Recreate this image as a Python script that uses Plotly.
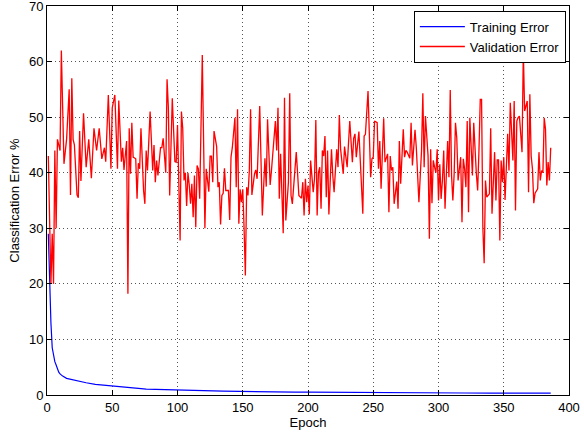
import plotly.graph_objects as go

# Training error (sampled along the smooth curve)
train_epochs = [1, 2, 3, 4, 5, 6, 7, 8, 9, 10, 12, 15, 20, 25, 30, 37, 43, 49, 56, 63,
                70, 76, 89, 100, 110, 120, 135, 150, 165, 175, 190, 200, 215, 225, 235,
                244, 260, 280, 300, 320, 340, 350, 360, 365, 370, 375, 386]
train_error = [29, 20, 13, 8.5, 6.8, 6.0, 5.4, 4.7, 4.1, 3.8, 3.4, 3.0, 2.7, 2.4, 2.2,
               1.9, 1.75, 1.6, 1.45, 1.3, 1.2, 1.07, 0.95, 0.85, 0.82, 0.78, 0.7, 0.62,
               0.58, 0.55, 0.52, 0.5, 0.47, 0.45, 0.43, 0.4, 0.38, 0.37, 0.36, 0.36,
               0.35, 0.35, 0.3, 0.28, 0.33, 0.35, 0.34]

# Validation error
val_epochs = [1, 2, 3, 4, 5, 6, 7, 8, 9, 10, 11, 13, 15, 17, 18, 19, 20, 21, 23, 24,
              25, 26, 28, 30, 32, 34, 36, 38, 40, 42, 44, 45, 47, 49, 50, 52, 54, 55, 57, 58,
              59, 61, 62, 63, 64, 65, 66, 68, 69, 70, 71, 72, 74, 75, 76, 77, 79, 81, 82, 83,
              84, 85, 87, 88, 89, 91, 92, 93, 94, 96, 98, 99, 100, 102, 103, 104, 105, 106, 107, 108,
              109, 110, 111, 112, 113, 114, 115, 116, 117, 119, 121, 122, 124, 125, 126, 127, 128, 130, 131, 132,
              133, 134, 135, 136, 137, 139, 140, 141, 142, 144, 145, 146, 147, 148, 149, 150, 151, 152, 153, 154,
              155, 156, 157, 159, 160, 161, 163, 164, 165, 167, 168, 169, 171, 172, 173, 175, 176, 177, 178, 179,
              181, 182, 183, 185, 186, 187, 188, 190, 191, 192, 193, 195, 196, 197, 198, 199, 200, 201, 202, 204,
              205, 206, 207, 208, 209, 210, 211, 212, 213, 214, 215, 216, 218, 219, 220, 222, 223, 224, 225, 227,
              228, 230, 231, 232, 234, 235, 236, 237, 239, 240, 242, 243, 244, 246, 247, 248, 249, 250, 251, 253,
              254, 255, 256, 258, 259, 261, 262, 263, 264, 265, 266, 268, 269, 270, 271, 273, 274, 275, 276, 278,
              279, 280, 282, 283, 285, 287, 288, 289, 290, 292, 293, 294, 295, 296, 297, 298, 299, 300, 301, 302,
              303, 304, 305, 307, 308, 309, 310, 311, 312, 313, 314, 315, 317, 318, 319, 320, 321, 322, 323, 324,
              326, 327, 329, 330, 331, 332, 333, 334, 335, 336, 337, 339, 340, 341, 343, 344, 345, 346, 347, 348,
              349, 350, 351, 352, 353, 354, 355, 357, 358, 359, 360, 361, 362, 364, 365, 366, 368, 369, 370, 371,
              372, 373, 374, 376, 377, 378, 379, 380, 381, 382, 383, 384, 385, 386]
val_error = [43, 28, 20, 29, 20, 44, 30, 46, 45, 44, 62, 41.6, 46, 55, 36, 57, 46, 45, 36, 35.5,
             47.5, 38.5, 50.7, 41, 46, 39, 48, 44, 48, 42.5, 44.5, 42, 54, 40.7, 51.7, 54, 40.7, 53, 42, 44.5,
             40.5, 45.7, 18.2, 48, 39.8, 49, 42.8, 42.5, 35.3, 41.7, 40.7, 48, 36.8, 34.4, 44, 40.4, 51, 40.4, 45, 38.3,
             42.2, 39.5, 44.5, 44.5, 46.2, 40, 56.8, 51.7, 35.9, 53.4, 42, 41.9, 48.6, 27.8, 51, 48, 38.6, 40, 34, 40,
             37.8, 34.4, 38, 32, 39.5, 30.2, 41.3, 40.7, 35.3, 61.2, 30, 40.7, 36.6, 43, 43, 38.3, 47.5, 44.7, 37.4, 38.3,
             30.7, 35.9, 36.3, 40.8, 36.8, 36.8, 31.5, 42.8, 44.5, 49.9, 37.4, 51.4, 30.8, 37, 34.7, 37, 30.2, 21.5, 37.4, 35.9,
             40.2, 51.4, 36, 39.8, 40.5, 38.9, 52, 40.5, 32.3, 42.6, 37.5, 49.6, 37.8, 40.4, 43.8, 49.3, 44, 51.7, 35.3, 43.4,
             29.1, 53.5, 31.4, 38.3, 54.3, 35.9, 34.4, 41, 43.7, 40, 35.9, 35.4, 38.3, 32.3, 38.9, 34.7, 37.7, 32.5, 42.2, 36.5,
             38.9, 49.5, 32.3, 40, 41, 33.5, 44, 43, 46.6, 35.6, 44, 32.5, 44.2, 39.5, 36.5, 44.2, 41, 50.4, 44.2, 39.8,
             44.7, 41, 45.9, 49.3, 41.9, 46.2, 47, 42.8, 47.4, 42.2, 32.6, 46.6, 46.9, 54.7, 45.7, 39.2, 42.5, 42.8, 49.3, 49,
             40.7, 45.7, 37.1, 49.8, 41.9, 43.4, 32.9, 43, 40.4, 41, 34.4, 38.4, 33.5, 45.7, 38, 47.8, 42.8, 44, 43.7, 42.6,
             49, 41.3, 47.7, 44.5, 34.7, 44, 54.3, 41, 50.2, 43, 28.1, 44.2, 34.5, 42.2, 41, 40, 44.2, 35, 41.5, 35.3,
             38.6, 44, 33.5, 45.7, 39.2, 54.9, 39.5, 35, 39.8, 49, 46.3, 38.6, 42.8, 31.1, 42.5, 40.7, 37.4, 49.3, 32.9, 49.9,
             39.5, 49, 39.8, 36.8, 44, 53.2, 53.2, 30, 23.7, 38.6, 35.6, 36.2, 48, 32.6, 43.7, 35, 42.3, 42.3, 27.8, 42.2,
             38.3, 42.8, 35.1, 42.2, 47, 40.4, 52.6, 42.2, 52.9, 33.2, 49.3, 49.9, 50.2, 43.7, 62, 51.1, 52.9, 36.5, 54.1, 43,
             40.7, 34.5, 36.3, 37.1, 43.7, 38.6, 40.4, 40, 49.9, 47.8, 37.7, 41.9, 38.6, 44.5]

x_ticks = [0, 50, 100, 150, 200, 250, 300, 350, 400]
y_ticks = [0, 10, 20, 30, 40, 50, 60, 70]

fig = go.Figure()
fig.add_trace(go.Scatter(x=train_epochs, y=train_error, mode="lines",
                         name="Training Error", line=dict(color="#0000FF", width=1.2)))
fig.add_trace(go.Scatter(x=val_epochs, y=val_error, mode="lines",
                         name="Validation Error", line=dict(color="#FF0000", width=1.3)))

axis_common = dict(
    showline=True, linecolor="black", linewidth=1, mirror="ticks",
    ticks="inside", ticklen=5, tickcolor="black",
    showgrid=True, gridcolor="#555555", griddash="1px,3px", gridwidth=1,
    zeroline=False, tickfont=dict(size=13, color="black"), automargin=False,
    ticklabeloverflow="allow",
)

fig.update_xaxes(range=[0, 400], tickvals=x_ticks, ticktext=[str(v) for v in x_ticks],
                 title=dict(text="Epoch", font=dict(size=13, color="black"), standoff=4),
                 **axis_common)
fig.update_yaxes(range=[0, 70], tickvals=y_ticks, ticktext=[str(v) for v in y_ticks],
                 title=dict(text="Classification Error %", font=dict(size=13, color="black"), standoff=6),
                 **axis_common)

fig.update_layout(
    width=584, height=437,
    margin=dict(l=47, r=15, t=6, b=42),
    paper_bgcolor="white", plot_bgcolor="white",
    font=dict(family="Liberation Sans, Arial, sans-serif", size=13, color="black"),
    legend=dict(x=0.994, y=0.988, xanchor="right", yanchor="top",
                bgcolor="white", bordercolor="black", borderwidth=1,
                itemwidth=45,
                font=dict(size=13, color="black"), tracegroupgap=0),
    showlegend=True,
)

fig.write_html("out.html", config={"displayModeBar": False},
               post_script="document.body.style.margin='0px';")
